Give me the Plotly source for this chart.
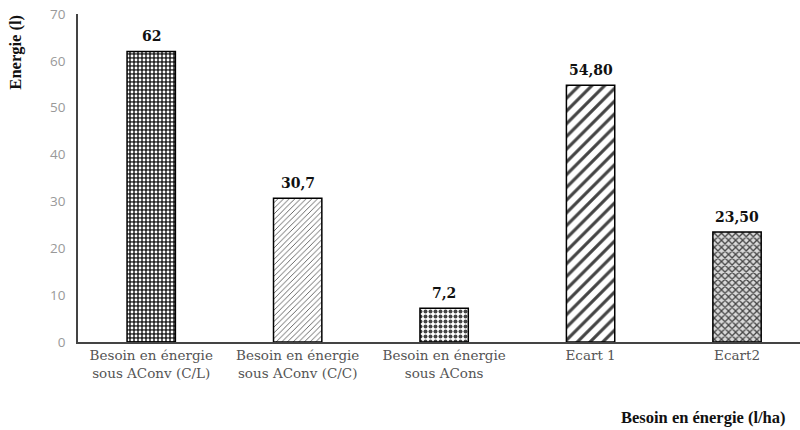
import plotly.graph_objects as go

categories = ["Besoin en énergie<br>sous AConv (C/L)", "Besoin en énergie<br>sous AConv (C/C)",
              "Besoin en énergie<br>sous ACons", "Ecart 1", "Ecart2"]
values = [62, 30.7, 7.2, 54.80, 23.50]
value_labels = ["62", "30,7", "7,2", "54,80", "23,50"]
y_ticks = [0, 10, 20, 30, 40, 50, 60, 70]

pattern_shapes = [".", "/", ".", "/", "x"]
pattern_fg = ["#a0a0a0", "#444444", "#000000", "#000000", "#333333"]
pattern_bg = ["#262626", "#ffffff", "#ffffff", "#ffffff", "#d9d9d9"]
pattern_size = [4, 4, 5, 9, 5]
pattern_solidity = [0.4, 0.2, 0.5, 0.35, 0.45]

x_idx = list(range(len(categories)))

fig = go.Figure()
fig.add_trace(go.Bar(
    x=x_idx, y=values, width=0.33,
    marker=dict(
        color=pattern_bg,
        line=dict(color="#000000", width=1.5),
        pattern=dict(shape=pattern_shapes, fgcolor=pattern_fg, bgcolor=pattern_bg,
                     size=pattern_size, solidity=pattern_solidity, fillmode="overlay",
                     fgopacity=1),
    ),
    hoverinfo="skip",
))

for i, (v, t) in enumerate(zip(values, value_labels)):
    fig.add_annotation(x=i, y=v, text="<b>" + t + "</b>", showarrow=False,
                       yanchor="bottom", yshift=5,
                       font=dict(family="DejaVu Serif", size=14, color="#111111"))

fig.add_annotation(xref="paper", yref="paper", x=0.984, y=-0.229, xanchor="right", yanchor="middle",
                   text="<b>Besoin en énergie (l/ha)</b>", showarrow=False,
                   font=dict(family="Liberation Serif", size=16.5, color="#111111"))
fig.add_annotation(xref="paper", yref="paper", x=-0.086, y=0.885, xanchor="center", yanchor="middle",
                   text="<b>Energie (l)</b>", showarrow=False, textangle=-90,
                   font=dict(family="Liberation Serif", size=16.5, color="#111111"))

fig.update_layout(
    width=800, height=430,
    margin=dict(l=78, r=0, t=14, b=88),
    paper_bgcolor="white", plot_bgcolor="white",
    showlegend=False,
    xaxis=dict(range=[-0.5, 4.43], tickmode="array", tickvals=x_idx, ticktext=categories,
               showline=True, linecolor="#444444", linewidth=1.5, ticks="",
               showgrid=False, zeroline=False,
               tickfont=dict(family="DejaVu Serif", size=13.5, color="#555555")),
    yaxis=dict(range=[0, 70], tickmode="array", tickvals=y_ticks,
               showline=True, linecolor="#444444", linewidth=1.5, ticks="",
               showgrid=False, zeroline=False, ticklabelstandoff=8,
               tickfont=dict(family="Open Sans", size=13.5, color="#999999")),
)

fig.write_html("out.html", config={"displayModeBar": False},
               post_script="document.body.style.margin='0';")
